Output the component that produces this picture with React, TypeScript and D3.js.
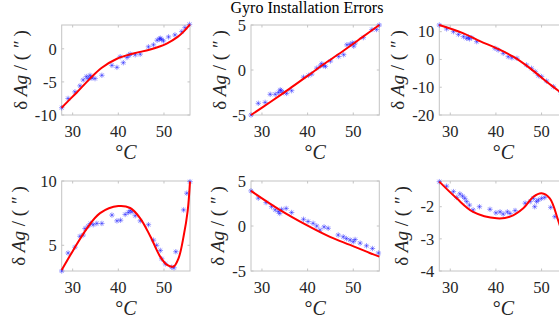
import React, { useRef, useEffect } from 'react';
import * as d3 from 'd3';

// measured temperature vs error, six gyro channels
const p1Points = [
  [27.6, -8.9], [29.0, -7.5], [30.5, -6.5], [31.6, -5.6], [32.3, -4.7], [33.0, -4.2], [33.4, -4.5],
  [33.8, -4.0], [34.0, -4.3], [34.2, -4.4], [34.9, -4.5], [36.4, -4.0], [38.6, -2.5], [39.7, -2.8],
  [40.4, -1.2], [41.1, -2.1], [41.9, -1.3], [42.3, -1.0], [42.6, -0.8], [43.7, -0.9], [44.8, -0.8],
  [46.6, 0.3], [47.7, 0.6], [48.5, 1.3], [49.0, 1.5], [49.2, 1.6], [49.5, 1.4], [49.9, 1.2],
  [51.0, 1.8], [52.4, 2.1], [53.9, 2.6], [54.6, 3.2], [55.6, 3.7],
];
const p1Fit = [
  [27.6, -8.9], [29.0, -7.9], [30.9, -6.6], [33.8, -4.5], [36.3, -2.9], [39.7, -1.5], [43.3, -0.7],
  [47.0, -0.1], [50.6, 0.8], [53.0, 1.8], [54.3, 2.6], [55.7, 3.7],
];

const p2Points = [
  [27.6, -5.0], [29.2, -3.7], [30.7, -3.6], [31.8, -2.7], [32.9, -2.7], [33.6, -2.5], [34.0, -2.2],
  [34.2, -2.3], [34.7, -2.5], [35.4, -2.6], [36.5, -2.3], [39.1, -0.8], [40.2, -0.6], [40.9, -0.45],
  [42.0, 0.2], [42.8, 0.45], [43.1, 0.7], [43.5, 0.5], [43.9, 0.4], [45.0, 1.0], [46.8, 1.5],
  [47.9, 1.7], [48.6, 2.8], [49.3, 2.85], [49.8, 3.0], [50.1, 2.65], [50.4, 3.0], [52.2, 3.6],
  [54.1, 4.5], [55.1, 4.5], [55.7, 5.0],
];
const p2Fit = [
  [27.6, -5.0], [32.0, -3.5], [36.0, -2.1], [40.0, -0.65], [44.0, 0.8], [48.0, 2.2], [52.0, 3.65], [55.7, 5.0],
];

const p3Points = [
  [27.6, 12.4], [29.2, 11.0], [30.7, 10.0], [31.8, 9.0], [32.9, 8.2], [33.6, 7.6], [34.2, 7.4],
  [34.0, 8.0], [34.7, 7.8], [35.8, 6.4], [39.8, 4.0], [40.5, 3.4], [41.6, 2.2], [42.7, 1.0],
  [43.5, 0.6], [44.6, 0.4], [46.7, -2.0], [47.8, -3.2], [48.6, -4.4], [49.3, -5.8], [50.0, -6.2],
  [51.1, -7.8], [52.6, -9.8], [54.2, -11.8], [55.7, -14.0],
];
const p3Fit = [
  [27.6, 12.4], [32.9, 9.4], [36.5, 6.6], [40.2, 4.0], [43.8, 1.0], [47.5, -3.2], [51.1, -8.0],
  [53.7, -11.3], [55.7, -14.2],
];

const p4Points = [
  [27.6, 3.0], [29.0, 4.4], [30.5, 4.85], [31.6, 5.7], [32.3, 5.8], [32.7, 6.3], [33.4, 6.5],
  [33.9, 6.7], [34.5, 6.6], [35.3, 6.7], [36.4, 6.7], [38.6, 7.35], [39.7, 6.9], [40.5, 6.95],
  [41.5, 7.4], [42.2, 7.55], [43.0, 7.6], [42.6, 7.7], [43.7, 7.3], [44.8, 6.9], [46.6, 6.6],
  [47.7, 5.4], [48.4, 5.0], [49.2, 4.6], [49.5, 3.95], [50.3, 3.55], [51.7, 3.3], [52.2, 3.25],
  [52.6, 4.5], [54.3, 7.75], [55.0, 9.05], [55.7, 9.95],
];
const p4Fit = [
  [27.6, 3.08], [30.1, 4.6], [33.1, 6.3], [36.0, 7.5], [40.0, 8.05], [42.6, 7.9], [44.8, 7.1],
  [47.0, 5.7], [49.2, 4.1], [50.6, 3.5], [52.1, 3.35], [53.2, 4.0], [54.3, 5.7], [55.2, 7.7], [55.7, 9.95],
];

const p5Points = [
  [27.6, 3.9], [29.2, 3.1], [30.9, 2.6], [32.1, 2.15], [32.9, 1.8], [33.6, 1.6], [33.9, 1.4],
  [34.3, 1.85], [35.3, 1.95], [36.5, 1.5], [39.1, 0.75], [40.1, 0.5], [41.2, 0.3], [42.0, 0.0],
  [42.7, -0.45], [43.6, -0.1], [44.5, -0.25], [46.7, -1.0], [47.8, -1.2], [48.5, -1.4], [49.3, -1.55],
  [50.0, -1.75], [50.4, -1.5], [51.5, -1.9], [52.9, -2.2], [54.2, -2.5], [55.5, -3.0],
];
const p5Fit = [
  [27.6, 3.9], [33.9, 1.8], [39.8, 0.1], [44.9, -1.2], [49.3, -2.1], [53.6, -3.0], [55.7, -3.4],
];

const p6Points = [
  [27.6, -1.22], [29.2, -1.36], [30.7, -1.53], [31.4, -1.71], [32.1, -1.6], [32.7, -1.67], [33.2, -1.74],
  [33.6, -1.84], [34.2, -1.95], [35.0, -2.1], [36.4, -2.0], [38.7, -2.08], [40.0, -2.19], [40.9, -2.16],
  [41.6, -2.23], [42.5, -2.16], [43.1, -2.21], [44.2, -2.12], [46.4, -1.89], [47.5, -1.84], [48.2, -1.74],
  [48.5, -2.0], [48.9, -1.84], [49.3, -1.79], [50.0, -1.74], [50.7, -1.71], [52.0, -2.02], [52.9, -2.31],
];
const p6Fit = [
  [27.6, -1.22], [31.4, -1.74], [35.0, -2.16], [40.2, -2.36], [43.1, -2.31], [46.0, -2.05], [48.2, -1.69],
  [50.0, -1.58], [51.8, -1.74], [53.6, -2.41], [55.7, -3.4],
];

const xTicks = [30, 40, 50];
const xDomain = [27.6, 55.7];
const yDomains = [[-10, 3.6], [-5, 5], [-20, 12.4], [3, 10], [-5, 5], [-4, -1.2]];
const yTicks = [[-10, -5, 0], [-5, 0, 5], [-20, -10, 0, 10], [5, 10], [-5, 0, 5], [-4, -3, -2]];
const titleText = 'Gyro Installation Errors';

const panels = [
  { pts: p1Points, fit: p1Fit, left: 61.7, top: 25, labelGap: 41 },
  { pts: p2Points, fit: p2Fit, left: 251, top: 25, labelGap: 32 },
  { pts: p3Points, fit: p3Fit, left: 439.3, top: 25, labelGap: 42 },
  { pts: p4Points, fit: p4Fit, left: 61.7, top: 181, labelGap: 43 },
  { pts: p5Points, fit: p5Fit, left: 251, top: 181, labelGap: 34 },
  { pts: p6Points, fit: p6Fit, left: 439.3, top: 181, labelGap: 38 },
];

const W = 559;
const H = 322;
const pw = 128.3;
const ph = 90;
const font = '"Liberation Serif", "Times New Roman", serif';
const boxColor = '#c4c4c4';
const textColor = '#262626';

export default function App() {
  const svgRef = useRef<SVGSVGElement>(null);

  useEffect(() => {
    const svgEl = d3.select(svgRef.current);
    svgEl.selectAll('*').remove();

    svgEl.append('rect').attr('width', W).attr('height', H).attr('fill', '#fff');

    svgEl
      .append('text')
      .attr('x', 307)
      .attr('y', 12.5)
      .attr('text-anchor', 'middle')
      .attr('font-family', font)
      .attr('font-size', 16)
      .attr('fill', '#000')
      .text(titleText);

    panels.forEach((p, i) => {
      const x = d3.scaleLinear().domain(xDomain).range([0, pw]);
      const y = d3.scaleLinear().domain(yDomains[i]).range([ph, 0]);
      const g = svgEl.append('g').attr('transform', `translate(${p.left},${p.top})`);

      // box
      g.append('rect')
        .attr('width', pw)
        .attr('height', ph)
        .attr('fill', 'none')
        .attr('stroke', boxColor)
        .attr('stroke-width', 1);

      // inward ticks on all sides
      const tl = 2.5;
      xTicks.forEach((t) => {
        g.append('line').attr('x1', x(t)).attr('x2', x(t)).attr('y1', 0).attr('y2', tl)
          .attr('stroke', boxColor);
        g.append('line').attr('x1', x(t)).attr('x2', x(t)).attr('y1', ph).attr('y2', ph - tl)
          .attr('stroke', boxColor);
        g.append('text')
          .attr('x', x(t))
          .attr('y', ph + 22)
          .attr('text-anchor', 'middle')
          .attr('font-family', font)
          .attr('font-size', 16.5)
          .attr('fill', textColor)
          .text(t);
      });
      yTicks[i].forEach((t) => {
        g.append('line').attr('x1', 0).attr('x2', tl).attr('y1', y(t)).attr('y2', y(t))
          .attr('stroke', boxColor);
        g.append('line').attr('x1', pw).attr('x2', pw - tl).attr('y1', y(t)).attr('y2', y(t))
          .attr('stroke', boxColor);
        g.append('text')
          .attr('x', -5)
          .attr('y', y(t))
          .attr('dy', '0.35em')
          .attr('text-anchor', 'end')
          .attr('font-family', font)
          .attr('font-size', 16.5)
          .attr('fill', textColor)
          .text(t);
      });

      // asterisk markers
      const s = 2.7;
      const d = s * 0.72;
      const mk = g.append('g').attr('stroke', '#1a1aff').attr('stroke-opacity', 0.5).attr('stroke-width', 0.9);
      p.pts.forEach(([px, py]) => {
        const cx = x(px);
        const cy = y(py);
        mk.append('path').attr(
          'd',
          `M${cx - s},${cy}H${cx + s}M${cx},${cy - s}V${cy + s}M${cx - d},${cy - d}L${cx + d},${cy + d}M${cx - d},${cy + d}L${cx + d},${cy - d}`,
        );
      });

      // fitted curve
      const line = d3.line<number[]>()
        .x((v) => x(v[0]))
        .y((v) => y(v[1]))
        .curve(d3.curveCatmullRom);
      g.append('path')
        .attr('d', line(p.fit))
        .attr('fill', 'none')
        .attr('stroke', '#ff0000')
        .attr('stroke-width', 2);

      // x label
      const xl = g.append('text')
        .attr('x', pw / 2)
        .attr('y', ph + 44)
        .attr('text-anchor', 'middle')
        .attr('font-family', font)
        .attr('font-size', 20)
        .attr('fill', textColor);
      xl.append('tspan').text('°');
      xl.append('tspan').attr('font-style', 'italic').text('C');

      // y label
      const yl = g.append('text')
        .attr('transform', `translate(${-p.labelGap},${ph / 2}) rotate(-90)`)
        .attr('text-anchor', 'middle')
        .attr('dy', '0.35em')
        .attr('font-family', font)
        .attr('font-size', 19)
        .attr('fill', textColor);
      yl.append('tspan').text('δ ');
      yl.append('tspan').attr('font-style', 'italic').text('Ag');
      yl.append('tspan').text(' / ( ');
      yl.append('tspan').attr('font-style', 'italic').text('″');
      yl.append('tspan').text(' )');
    });
  }, []);

  return (
    <svg
      ref={svgRef}
      width={W}
      height={H}
      style={{ position: 'absolute', left: 0, top: 0, display: 'block' }}
    />
  );
}
